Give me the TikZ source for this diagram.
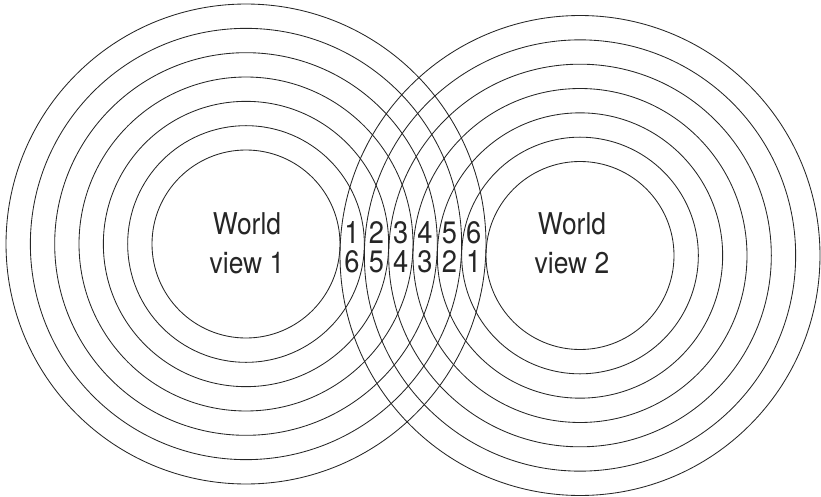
\documentclass[tikz,border=0pt]{standalone}
\usepackage{fontspec}
\setmainfont{TeX Gyre Heros}[FakeStretch=0.88]
\usetikzlibrary{positioning}

\begin{document}
\begin{tikzpicture}[
    x=1pt, y=-1pt,
    ring/.style={draw=black!85, line width=0.85pt},
    worldlabel/.style={align=center, text=black!85, inner sep=0pt, font=\fontsize{30}{39}\selectfont},
    digit/.style={anchor=base, text=black!85, inner sep=0pt, font=\fontsize{31}{31}\selectfont}
]
\useasboundingbox (0,0) rectangle (821,497);

% --- Mittelpunkte der beiden Weltbilder ---
\coordinate (c1) at (246,244);
\coordinate (c2) at (580,255.5);

% --- Ringe ---
\foreach \k in {0,...,6} {
    \draw[ring] (c1) circle[radius={(94+24.33*\k)*1pt}];
    \draw[ring] (c2) circle[radius={(94+24.33*\k)*1pt}];
}

% --- Beschriftungen ---
\node[worldlabel] (wv1) at (247,243) {World\\view 1};
\node[worldlabel] (wv2) at (572,243) {World\\view 2};

% Ziffern in den Schnittlinsen
\foreach \i in {1,...,6} {
    \pgfmathtruncatemacro{\j}{7-\i}
    \node[digit] (up\i) at ({327.7+24.33*\i},243.5) {\i};
    \node[digit] (lo\i) at ({327.7+24.33*\i},272) {\j};
}

\end{tikzpicture}
\end{document}
